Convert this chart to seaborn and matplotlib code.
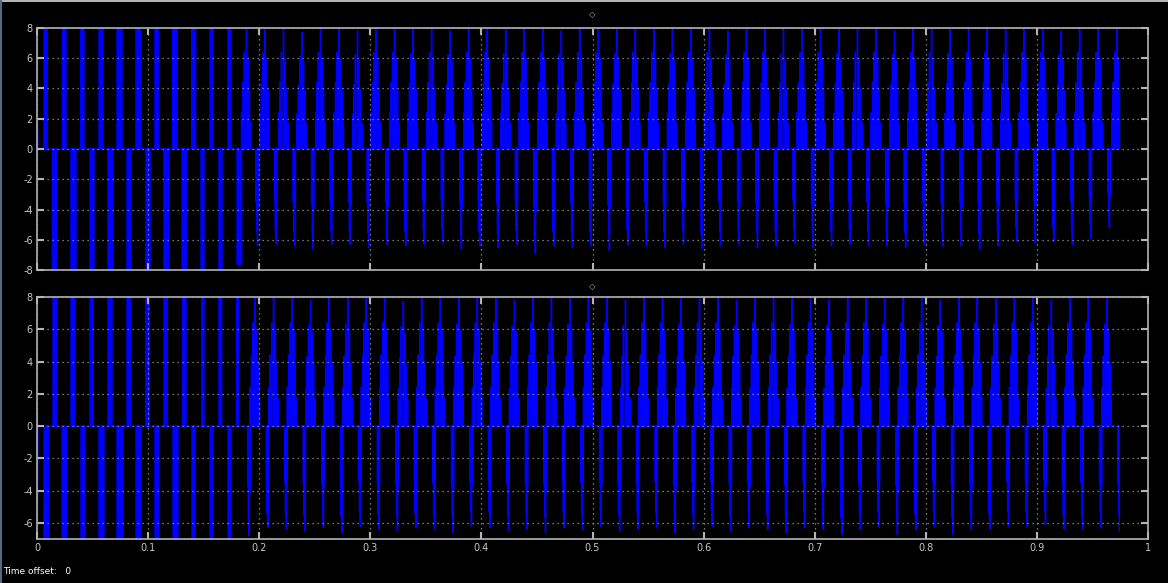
import numpy as np
import pandas as pd
import matplotlib
matplotlib.use("Agg")
import matplotlib.pyplot as plt
import seaborn as sns

# ---------------- data ----------------
cycle_start = [0.0000, 0.0167, 0.0333, 0.0500, 0.0667, 0.0833, 0.1000, 0.1167, 0.1333, 0.1500,
               0.1667, 0.1833, 0.2000, 0.2167, 0.2333, 0.2500, 0.2667, 0.2833, 0.3000, 0.3167,
               0.3333, 0.3500, 0.3667, 0.3833, 0.4000, 0.4167, 0.4333, 0.4500, 0.4667, 0.4833,
               0.5000, 0.5167, 0.5333, 0.5500, 0.5667, 0.5833, 0.6000, 0.6167, 0.6333, 0.6500,
               0.6667, 0.6833, 0.7000, 0.7167, 0.7333, 0.7500, 0.7667, 0.7833, 0.8000, 0.8167,
               0.8333, 0.8500, 0.8667, 0.8833, 0.9000, 0.9167, 0.9333, 0.9500, 0.9667]
end_time = 0.9745

# start-up (saturated, rectangular) pulses - top scope
top_init_t = [0.0000, 0.0003, 0.0008]
top_init_v = [-0.8, 1.8, 0.0]
top_rect_pos_on = [0.0063, 0.0228, 0.0393, 0.0558, 0.0720, 0.0890, 0.1062, 0.1221, 0.1392, 0.1557, 0.1719]
top_rect_pos_off = [0.0093, 0.0261, 0.0423, 0.0594, 0.0765, 0.0930, 0.1092, 0.1263, 0.1428, 0.1584, 0.1743]
top_rect_pos_lvl = [8, 8, 8, 8, 8, 8, 8, 8, 8, 8, 8]
top_rect_neg_on = [0.0138, 0.0306, 0.0477, 0.0639, 0.0810, 0.0980, 0.1143, 0.1305, 0.1476, 0.1638, 0.1800]
top_rect_neg_off = [0.0177, 0.0351, 0.0513, 0.0684, 0.0846, 0.1017, 0.1188, 0.1350, 0.1503, 0.1665, 0.1842]
top_rect_neg_lvl = [-8, -8, -8, -8, -8, -8, -8, -8, -8, -8, -7.6]

# steady state - top scope (cycles 11..58)
top_peak = [8.0, 7.9, 8.0, 7.7, 8.0, 8.0, 7.8, 8.0, 8.0, 7.9, 8.0, 7.8, 8.0, 8.0, 7.9, 8.0,
            8.0, 7.8, 8.0, 8.0, 7.9, 8.0, 8.0, 7.9, 8.0, 8.0, 7.8, 8.0, 8.0, 7.9, 8.0, 8.0,
            7.9, 8.0, 8.0, 7.8, 8.0, 8.0, 7.9, 8.0, 8.0, 7.9, 8.0, 8.0, 7.8, 8.0, 8.0, 8.0]
top_trough = [-6.4, -6.3, -6.4, -6.6, -6.3, -6.3, -6.5, -6.3, -6.4, -6.3, -6.2, -6.6, -6.4, -6.5,
              -6.3, -6.9, -6.4, -6.5, -6.4, -6.7, -6.3, -6.4, -6.5, -6.3, -6.6, -6.4, -6.3, -6.5,
              -6.4, -6.2, -6.5, -6.4, -6.3, -6.4, -6.4, -6.5, -6.3, -6.4, -6.4, -6.6, -6.4, -6.1,
              -6.2, -6.1, -6.3, -5.9, -5.2, -6.0]

# start-up pulses - bottom scope
bot_init_t = [0.0000, 0.0003, 0.0008]
bot_init_v = [0.7, -5.0, 0.0]
bot_rect_neg_on = [0.0063, 0.0225, 0.0396, 0.0558, 0.0720, 0.0891, 0.1062, 0.1224, 0.1395, 0.1557, 0.1719]
bot_rect_neg_off = [0.0108, 0.0270, 0.0432, 0.0603, 0.0774, 0.0936, 0.1098, 0.1269, 0.1422, 0.1584, 0.1746]
bot_rect_neg_lvl = [-8, -8, -8, -8, -8, -8, -8, -8, -8, -8, -8]
bot_rect_pos_on = [0.0144, 0.0306, 0.0477, 0.0639, 0.0810, 0.0978, 0.1143, 0.1311, 0.1482, 0.1638, 0.1797]
bot_rect_pos_off = [0.0180, 0.0342, 0.0507, 0.0675, 0.0843, 0.1011, 0.1173, 0.1341, 0.1503, 0.1662, 0.1812]
bot_rect_pos_lvl = [8, 8, 8, 8, 8, 8, 8, 8, 8, 8, 8]

# steady state - bottom scope (cycles 11..58)
bot_peak = [8.0, 8.0, 8.0, 7.8, 8.0, 7.9, 8.0, 8.0, 7.7, 8.0, 8.0, 7.9, 8.0, 8.0, 7.8, 8.0,
            8.0, 7.9, 8.0, 8.0, 7.8, 8.0, 8.0, 7.9, 8.0, 8.0, 7.8, 8.0, 8.0, 7.9, 8.0, 7.8,
            8.0, 8.0, 7.9, 8.0, 8.0, 7.8, 8.0, 8.0, 7.9, 8.0, 8.0, 7.8, 8.0, 8.0, 7.9, 8.0]
bot_trough = [-6.8, -6.3, -6.4, -6.5, -6.3, -6.6, -6.2, -6.4, -6.5, -6.3, -6.4, -6.6, -6.2, -6.3,
              -6.5, -6.4, -6.6, -6.3, -6.4, -6.2, -6.5, -6.4, -6.3, -6.6, -6.4, -6.2, -6.5, -6.3,
              -6.4, -6.6, -6.3, -6.4, -6.7, -6.4, -6.2, -6.7, -6.4, -6.2, -6.7, -6.4, -6.4, -6.2,
              -6.2, -6.1, -6.4, -6.4, -6.3, -6.5]

# shape of one PWM lobe (offset in s from the lobe extreme, relative height, pulse width in s)
lobe_pos_off = [-0.0042, -0.0030, -0.0017, 0.0000, 0.0014, 0.0027, 0.0040]
lobe_pos_rel = [0.30, 0.55, 0.80, 1.00, 0.75, 0.50, 0.22]
lobe_pos_wid = [0.00005, 0.00005, 0.0001, 0.0004, 0.0004, 0.0003, 0.0002]
lobe_neg_off = [-0.0012, -0.0006, 0.0000, 0.0006]
lobe_neg_rel = [0.55, 0.85, 1.00, 0.60]
lobe_neg_wid = [0.0004, 0.0004, 0.0004, 0.0003]

# ---------------- build the step signals ----------------
def build(init_t, init_v, rect_sets, peaks, troughs, peak_shift, trough_shift, first_cycle):
    pulses = []
    for on, off, lvl in rect_sets:
        for a, b, h in zip(on, off, lvl):
            pulses.append((a, b, h, True))
    for i, h in enumerate(peaks):
        c = cycle_start[first_cycle + i] + peak_shift
        for o, r, w in zip(lobe_pos_off, lobe_pos_rel, lobe_pos_wid):
            pulses.append((c + o, c + o + w, h * r, False))
    for i, h in enumerate(troughs):
        c = cycle_start[first_cycle + i] + trough_shift
        for o, r, w in zip(lobe_neg_off, lobe_neg_rel, lobe_neg_wid):
            pulses.append((c + o, c + o + w, h * r, False))
    pulses.sort(key=lambda p: p[0])
    ts, vs = list(init_t), list(init_v)
    for a, b, h, solid in pulses:
        if solid:
            n = max(1, int(round((b - a) / 0.0009)))
            edges = [a + (b - a) * j / n for j in range(n + 1)]
            for x0, x1 in zip(edges[:-1], edges[1:]):
                ts += [x0, x0, x1, x1]
                vs += [0.0, h, h, 0.0]
        else:
            ts += [a, a, b, b]
            vs += [0.0, h, h, 0.0]
    df = pd.DataFrame({"t": ts, "v": vs})
    df = df[df["t"] <= end_time].reset_index(drop=True)
    return df

top_df = build(top_init_t, top_init_v,
               [(top_rect_pos_on, top_rect_pos_off, top_rect_pos_lvl),
                (top_rect_neg_on, top_rect_neg_off, top_rect_neg_lvl)],
               top_peak, top_trough, 0.0050, 0.0150, 11)
bot_df = build(bot_init_t, bot_init_v,
               [(bot_rect_pos_on, bot_rect_pos_off, bot_rect_pos_lvl),
                (bot_rect_neg_on, bot_rect_neg_off, bot_rect_neg_lvl)],
               bot_peak, bot_trough, 0.0128, 0.0075, 11)

x_ticks = [0, 0.1, 0.2, 0.3, 0.4, 0.5, 0.6, 0.7, 0.8, 0.9, 1.0]
x_tick_labels = ["0", "0.1", "0.2", "0.3", "0.4", "0.5", "0.6", "0.7", "0.8", "0.9", "1"]
top_y_ticks = [8, 6, 4, 2, 0, -2, -4, -6, -8]
bot_y_ticks = [8, 6, 4, 2, 0, -2, -4, -6]

# ---------------- style ----------------
sns.set_theme(style="dark")
plt.rcParams.update({
    "figure.facecolor": "black",
    "axes.facecolor": "black",
    "axes.edgecolor": "#b4b4b4",
    "axes.unicode_minus": False,
})
plt.rcParams["font.family"] = ["DejaVu Sans"]

fig = plt.figure(figsize=(11.68, 5.83), dpi=100)
ax_top = fig.add_axes([37 / 1168, 1 - 270 / 583, 1111 / 1168, 242 / 583])
ax_bot = fig.add_axes([37 / 1168, 1 - 539 / 583, 1111 / 1168, 242 / 583])

for ax, df, yt, ylim in [(ax_top, top_df, top_y_ticks, (-8, 8)),
                         (ax_bot, bot_df, bot_y_ticks, (-7, 8))]:
    sns.lineplot(data=df, x="t", y="v", sort=False, estimator=None,
                 color="#0000ff", linewidth=1.0, ax=ax, legend=False)
    ax.set_xlim(0, 1)
    ax.set_ylim(*ylim)
    ax.set_xticks(x_ticks)
    ax.set_yticks(yt)
    ax.set_yticklabels([str(v) for v in yt])
    ax.set_xlabel("")
    ax.set_ylabel("")
    ax.grid(True, color="#9c9c9c", linestyle=(0, (1, 3)), linewidth=0.9)
    ax.set_axisbelow(False)
    for s in ax.spines.values():
        s.set_color("#b4b4b4")
        s.set_linewidth(1.2)
        s.set_visible(True)
    ax.tick_params(axis="both", which="major", direction="in", length=5, width=1.5,
                   color="#b4b4b4", top=True, right=True, bottom=True, left=True,
                   labelsize=7, labelcolor="#c8c8c8", pad=3)

ax_top.set_xticklabels([])
ax_bot.set_xticklabels(x_tick_labels)

fig.text(592 / 1168, 1 - 15 / 583, "\u25c7", color="#c0c0c0", fontsize=6, ha="center", va="center")
fig.text(592 / 1168, 1 - 287 / 583, "\u25c7", color="#c0c0c0", fontsize=6, ha="center", va="center")
fig.text(3 / 1168, 1 - 571 / 583, "Time offset:   0", color="white", fontsize=6.5, ha="left", va="center")

# window frame edges of the scope screenshot
fig.add_artist(plt.Line2D([0, 1], [0.9985, 0.9985], transform=fig.transFigure, color="#d8d8d8", linewidth=1.2))
fig.add_artist(plt.Line2D([0.001, 0.001], [0, 1], transform=fig.transFigure, color="#56687a", linewidth=1.5))

fig.savefig("out.png", dpi=100, facecolor="black")
